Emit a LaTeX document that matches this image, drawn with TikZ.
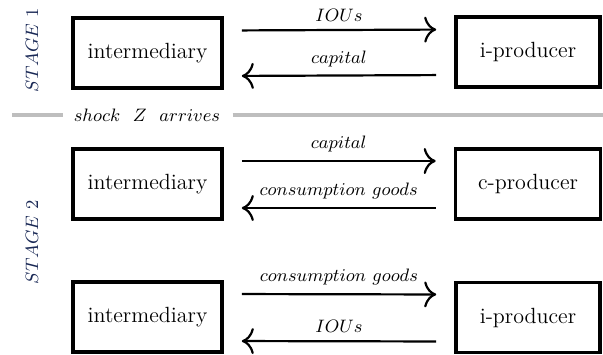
\documentclass[tikz,border=0pt]{standalone}
\usetikzlibrary{arrows.meta}
\definecolor{stagecol}{RGB}{25,40,85}
\definecolor{shockgray}{RGB}{190,190,190}
\begin{document}
\begin{tikzpicture}[x=0.5pt,y=-0.5pt,
  agent/.style={draw,line width=1.8pt,minimum height=35pt,inner sep=0pt,font=\fontsize{11}{13}\selectfont},
  flow/.style={line width=1.1pt,-{Computer Modern Rightarrow[length=6pt,width=13pt,line width=1.1pt]},shorten <=9pt,shorten >=9pt},
  lbl/.style={above=0.5pt,midway,font=\fontsize{9.4}{11}\selectfont},
  stage/.style={rotate=90,text=stagecol,font=\fontsize{9}{11}\selectfont}]
\useasboundingbox (0,0) rectangle (603,354);
% Stage 1
\node[agent,minimum width=74.5pt] (a1) at (147.5,53) {intermediary};
\node[agent,minimum width=72pt] (b1) at (528,52) {i-producer};
\draw[flow] ([yshift=11.25pt]a1.east) -- node[lbl]{$IOUs$} ([yshift=11.25pt]b1.west);
\draw[flow] ([yshift=-11.5pt]b1.west) -- node[lbl]{$capital$} ([yshift=-11.5pt]a1.east);
\node[stage] (s1) at (32,50) {$STAGE\ 1$};
% shock line
\node[font=\fontsize{9.5}{11}\selectfont,inner sep=0pt] (sh) at (147,115) {$shock\ \ Z\ \ arrives$};
\coordinate (l0) at (12,115);
\coordinate (r0) at (603,115);
\draw[shockgray,line width=1.6pt,shorten >=5pt] (l0) -- (sh.west);
\draw[shockgray,line width=1.6pt,shorten <=6pt] (sh.east) -- (r0);
% Stage 2, first
\node[agent,minimum width=74.5pt] (a2) at (147.5,184) {intermediary};
\node[agent,minimum width=72.5pt] (b2) at (528,184) {c-producer};
\draw[flow] ([yshift=11.5pt]a2.east) -- node[lbl]{$capital$} ([yshift=11.5pt]b2.west);
\draw[flow] ([yshift=-12pt]b2.west) -- node[lbl]{$consumption\ goods$} ([yshift=-12pt]a2.east);
% Stage 2, second
\node[agent,minimum width=74.5pt] (a3) at (147.5,317) {intermediary};
\node[agent,minimum width=72pt] (b3) at (528,317.5) {i-producer};
\draw[flow] ([yshift=11.5pt]a3.east) -- node[lbl]{$consumption\ goods$} ([yshift=11.5pt]b3.west);
\draw[flow] ([yshift=-12pt]b3.west) -- node[lbl]{$IOUs$} ([yshift=-12pt]a3.east);
\node[stage] (s2) at (32,242) {$STAGE\ 2$};
\end{tikzpicture}
\end{document}
